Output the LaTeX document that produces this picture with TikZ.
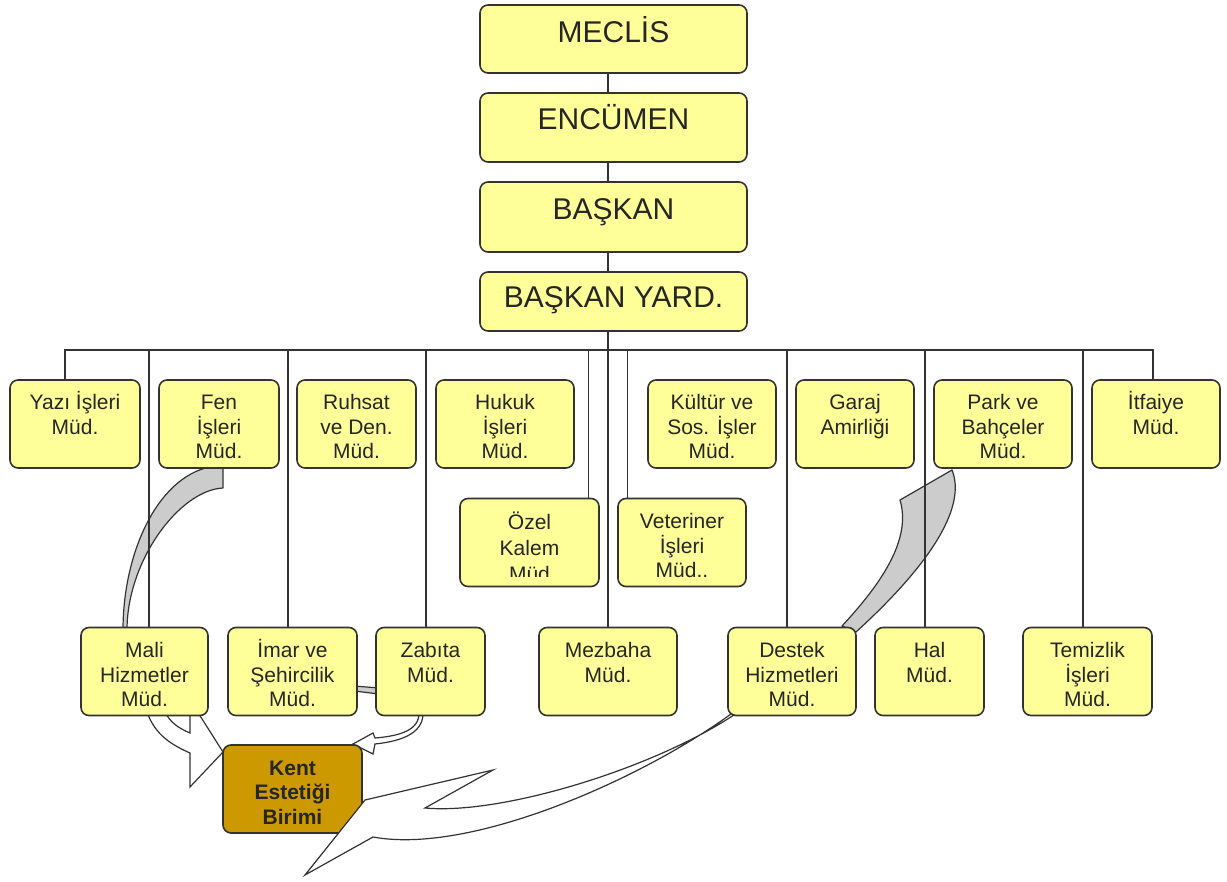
\documentclass[tikz,border=0pt]{standalone}
\usepackage{fontspec}
\setmainfont{Liberation Sans}
\usetikzlibrary{positioning,backgrounds}
\definecolor{unitc}{HTML}{FFFF99}
\definecolor{kentc}{HTML}{CC9900}
\definecolor{edgec}{HTML}{333333}
\definecolor{bandc}{HTML}{CCCCCC}
\definecolor{textc}{HTML}{262626}
\newcommand\deptfont{\fontsize{21}{24.5}\selectfont}
\newcommand\ut[1]{\parbox[c][88pt][t]{100pt}{\centering\rule{0pt}{30pt}#1}}
\def\fenband{(216,466) -- (223,466) -- (223,488) .. controls (180,490) and (127,560) .. (127,630) -- (123,630) .. controls (123,550) and (160,472) .. (216,466) -- cycle}
\def\imarband{(354,686) -- (379,688) -- (379,694) -- (354,691) -- cycle}
\def\parkband{(900,500) -- (952,470) .. controls (966,505) and (935,560) .. (856,632) -- (842,626) .. controls (880,585) and (912,540) .. (900,500) -- cycle}
\def\maliarrow{(147,712) .. controls (155,735) and (172,745) .. (190,753) -- (190,787) -- (223,752) -- (190,700) -- (190,733) .. controls (178,728) and (170,722) .. (165,712) -- cycle}
\def\zabitaarrow{(419,712) .. controls (420,730) and (400,736) .. (375,738) -- (373,733) -- (353,744) -- (373,754) -- (375,744) .. controls (404,741) and (424,732) .. (423,712) -- cycle}
\def\destekarrow{(493,770) -- (365,800) -- (305,875) -- (373,837) .. controls (470,855) and (640,780) .. (731,714) -- (734,715) .. controls (650,770) and (500,815) .. (425,808) -- cycle}

\begin{document}
\begin{tikzpicture}[x=1pt,y=-1pt,
  every node/.style={text=textc},
  chief/.style={draw=edgec, fill=unitc, rounded corners=8pt, line width=1.6pt, inner sep=0pt, minimum width=267pt, font=\fontsize{30}{36}\selectfont},
  dept/.style={draw=edgec, fill=unitc, rounded corners=8pt, line width=1.6pt, inner sep=0pt, minimum height=88pt, minimum width=#1, font=\deptfont},
  wire/.style={draw=edgec, line width=1.3pt},
  band/.style={draw=edgec, fill=bandc, line width=1.2pt, line join=round},
  bolt/.style={draw=edgec, fill=white, line width=1.2pt, line join=miter}]
 \useasboundingbox (0,0) rectangle (1227,882);
 % top of the chart
 \node[chief, text height=38pt, text depth=30pt] (meclis) at (613.5,39) {MECLİS};
 \node[chief, text height=37pt, text depth=32pt] (encumen) at (613.5,127.5) {ENCÜMEN};
 \node[chief, text height=38pt, text depth=32pt] (baskan) at (613.5,217) {BAŞKAN};
 \node[chief, text height=36pt, text depth=23pt] (yard) at (613.5,301.5) {BAŞKAN YARD.};
 % first row
 \node[dept=130pt] (yazi) at (75,424) {\ut{Yazı İşleri\\Müd.}};
 \node[dept=120pt] (fen) at (219,424) {\ut{Fen\\İşleri\\Müd.}};
 \node[dept=119pt] (ruhsat) at (356.5,424) {\ut{Ruhsat\\ve Den.\\Müd.}};
 \node[dept=138pt] (hukuk) at (505,424) {\ut{Hukuk\\İşleri\\Müd.}};
 \node[dept=128pt] (kultur) at (712,424) {\ut{Kültür ve\\Sos. İşler\\Müd.}};
 \node[dept=118pt] (garaj) at (855,424) {\ut{Garaj\\Amirliği}};
 \node[dept=138pt] (park) at (1003,424) {\ut{Park ve\\Bahçeler\\Müd.}};
 \node[dept=128pt] (itfaiye) at (1156,424) {\ut{İtfaiye\\Müd.}};
 % second row
 \node[dept=139pt, path picture={
   \clip ([yshift=10pt]path picture bounding box.south west) rectangle (path picture bounding box.north east);
   \node[inner sep=0pt, anchor=north, font=\fontsize{21}{26}\selectfont, text=textc] at (path picture bounding box.north) {\ut{Özel\\Kalem\\Müd}};}] (ozel) at (529.5,542.5) {};
 \node[dept=128pt] (veteriner) at (682,542.5) {\ut{Veteriner\\İşleri\\Müd..}};
 % third row
 \node[dept=127pt] (mali) at (144.5,671.5) {\ut{Mali\\Hizmetler\\Müd.}};
 \node[dept=129pt] (imar) at (292.5,671.5) {\ut{İmar ve\\Şehircilik\\Müd.}};
 \node[dept=109pt] (zabita) at (430.5,671.5) {\ut{Zabıta\\Müd.}};
 \node[dept=138pt] (mezbaha) at (608,671.5) {\ut{Mezbaha\\Müd.}};
 \node[dept=128pt] (destek) at (792,671.5) {\ut{Destek\\Hizmetleri\\Müd.}};
 \node[dept=109pt] (hal) at (929.5,671.5) {\ut{Hal\\Müd.}};
 \node[dept=129pt] (temizlik) at (1087.5,671.5) {\ut{Temizlik\\İşleri\\Müd.}};
 % the unit itself
 \node[dept=139pt, fill=kentc, font=\deptfont\bfseries] (kent) at (292.5,789) {\ut{Kent\\Estetiği\\Birimi}};
 \coordinate (bus) at (608,350);
 \begin{pgfonlayer}{background}
  \draw[band] \fenband;
  \draw[band] \imarband;
  \draw[band] \parkband;
  \draw[wire] ([xshift=-5.5pt]meclis.south) -- ([xshift=-5.5pt]encumen.north);
  \draw[wire] ([xshift=-5.5pt]encumen.south) -- ([xshift=-5.5pt]baskan.north);
  \draw[wire] ([xshift=-5.5pt]baskan.south) -- ([xshift=-5.5pt]yard.north);
  \draw[wire] ([xshift=-5.5pt]yard.south) -- (bus) -- (mezbaha.north);
  \draw[wire] ([xshift=-10pt]yazi.north) |- (bus);
  \draw[wire] ([xshift=4.5pt]mali.north) |- (bus);
  \draw[wire] ([xshift=-4.5pt]imar.north) |- (bus);
  \draw[wire] ([xshift=-4.5pt]zabita.north) |- (bus);
  \draw[wire] ([xshift=-11pt]ozel.north east) |- (bus);
  \draw[wire] ([xshift=10.5pt]veteriner.north west) |- (bus);
  \draw[wire] ([xshift=-5pt]destek.north) |- (bus);
  \draw[wire] ([xshift=-4.5pt]hal.north) |- (bus);
  \draw[wire] ([xshift=-4.5pt]temizlik.north) |- (bus);
  \draw[wire] ([xshift=-3pt]itfaiye.north) |- (bus);
  \draw[bolt] \maliarrow;
  \draw[bolt] \zabitaarrow;
 \end{pgfonlayer}
 \draw[bolt] \destekarrow;
\end{tikzpicture}
\end{document}
